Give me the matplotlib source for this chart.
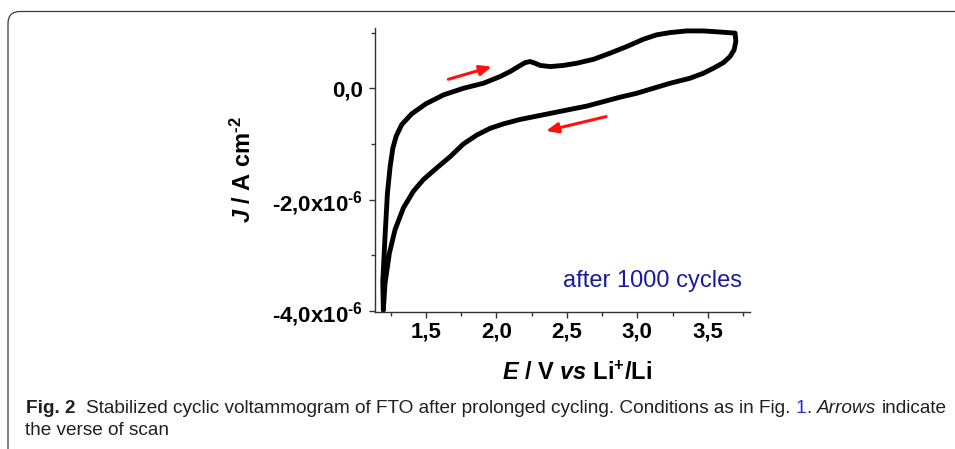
import matplotlib
matplotlib.use("Agg")
import matplotlib.pyplot as plt
from matplotlib.patches import FancyBboxPatch
from matplotlib.transforms import IdentityTransform
from matplotlib.ticker import FixedLocator, FixedFormatter

plt.rcParams["font.family"] = ["Liberation Sans", "DejaVu Sans"]
plt.rcParams["mathtext.fontset"] = "custom"
plt.rcParams["mathtext.rm"] = "Liberation Sans:bold"
plt.rcParams["mathtext.it"] = "Liberation Sans:italic:bold"
plt.rcParams["mathtext.bf"] = "Liberation Sans:bold"
plt.rcParams["mathtext.default"] = "rm"

# anodic scan (E in V vs Li+/Li, J in 1e-6 A cm-2)
fwd_E = [1.199, 1.195, 1.211, 1.228, 1.247, 1.266, 1.290, 1.330, 1.400, 1.500,
         1.625, 1.767, 1.909, 2.027, 2.098, 2.157, 2.204, 2.240, 2.275, 2.311,
         2.382, 2.476, 2.571, 2.689, 2.807, 2.926, 3.043, 3.138, 3.233, 3.351,
         3.469, 3.587, 3.694]
fwd_J = [-3.98, -3.47, -2.66, -1.88, -1.41, -1.08, -0.86, -0.65, -0.46, -0.28,
         -0.12, 0.00, 0.09, 0.21, 0.30, 0.39, 0.46, 0.48, 0.45, 0.41,
         0.39, 0.41, 0.45, 0.52, 0.63, 0.75, 0.88, 0.96, 1.00, 1.03,
         1.03, 1.01, 0.99]
# cathodic scan
rev_E = [3.699, 3.687, 3.658, 3.611, 3.540, 3.469, 3.374, 3.233, 3.114, 2.996,
         2.878, 2.760, 2.642, 2.523, 2.405, 2.287, 2.169, 2.050, 1.956, 1.862,
         1.767, 1.672, 1.578, 1.483, 1.412, 1.341, 1.282, 1.242, 1.211, 1.199]
rev_J = [0.84, 0.69, 0.57, 0.46, 0.36, 0.27, 0.18, 0.09, 0.00, -0.09,
         -0.16, -0.24, -0.32, -0.38, -0.44, -0.50, -0.56, -0.64, -0.72, -0.84,
         -1.00, -1.23, -1.43, -1.64, -1.85, -2.15, -2.54, -2.96, -3.50, -3.98]

x_ticks = [1.5, 2.0, 2.5, 3.0, 3.5]
x_tick_labels = ["1,5", "2,0", "2,5", "3,0", "3,5"]
y_ticks = [-4.0e-6, -2.0e-6, 0.0]
y_tick_labels = [r"-4,0x10$^{\text{-6}}$", r"-2,0x10$^{\text{-6}}$", "0,0"]

fig = plt.figure(figsize=(9.55, 4.49), dpi=100)
ax = fig.add_axes([0.3927, 0.3051, 0.3927, 0.6325])

E = fwd_E + rev_E
J = [j * 1e-6 for j in fwd_J + rev_J]
ax.plot(E, J, color="black", lw=3.5, solid_joinstyle="round", solid_capstyle="round")

ax.set_xlim(1.14, 3.80)
ax.set_ylim(-4.018e-6, 1.082e-6)
for s in ["top", "right"]:
    ax.spines[s].set_visible(False)
for s in ["left", "bottom"]:
    ax.spines[s].set_color("#333333")
    ax.spines[s].set_linewidth(1.0)

ax.xaxis.set_major_locator(FixedLocator(x_ticks))
ax.xaxis.set_major_formatter(FixedFormatter(x_tick_labels))
ax.xaxis.set_minor_locator(FixedLocator([1.25, 1.75, 2.25, 2.75, 3.25, 3.75]))
ax.yaxis.set_major_locator(FixedLocator(y_ticks))
ax.yaxis.set_major_formatter(FixedFormatter(y_tick_labels))
ax.yaxis.set_minor_locator(FixedLocator([-3e-6, -1e-6, 1e-6]))
ax.tick_params(which="major", length=4.5, width=1, color="#333333", direction="out")
ax.tick_params(which="minor", length=3, width=1, color="#333333", direction="out")
ax.tick_params(axis="x", which="major", pad=2)
ax.tick_params(axis="y", which="major", pad=4)
for lab in ax.get_xticklabels() + ax.get_yticklabels():
    lab.set_fontsize(16)
    lab.set_fontweight("bold")

# scan direction arrows
arrow = dict(arrowstyle="-|>,head_length=0.7,head_width=0.3", color="#ff1010",
             lw=2.2, shrinkA=0, shrinkB=0)
ax.annotate("", xy=(1.968, 0.387e-6), xytext=(1.660, 0.161e-6), arrowprops=arrow)
ax.annotate("", xy=(2.353, -0.766e-6), xytext=(2.779, -0.509e-6), arrowprops=arrow)

ax.text(3.743, -3.47e-6, "after 1000 cycles", color="#1a1a9e", fontsize=17,
        ha="right", va="center")

fig.text(0.2545, 0.6214, r"$\mathit{J}$ / A cm$^{\text{-2}}$", rotation=90, fontsize=17,
         fontweight="bold", ha="center", va="center")
fig.text(0.6047, 0.1693, r"$\mathit{E}$ / V $\mathit{vs}$ Li$^{+}$/Li", fontsize=17,
         fontweight="bold", ha="center", va="center")

# rounded frame of the figure panel
frame = FancyBboxPatch((8, -30), 1000, 467.5, boxstyle="round,pad=0,rounding_size=12",
                       transform=IdentityTransform(), fill=False, edgecolor="#3a3a3a", lw=0.9)
fig.patches.append(frame)

# caption
cap_size = 13.7
cap_family = ["Liberation Sans"]
cap_color = "#231f20"
r = fig.canvas.get_renderer()


def width_of(s, **kw):
    t = fig.text(0, 0, s, fontsize=cap_size, family=cap_family, **kw)
    w = t.get_window_extent(r).width
    t.remove()
    return w


space = width_of("a a") - width_of("aa")


def put_line(x_px, y_px, parts):
    x = x_px
    for s, kw, gap in parts:
        t = fig.text(x / 955, 1 - y_px / 449, s, fontsize=cap_size, family=cap_family,
                     va="baseline", ha="left", **kw)
        x += t.get_window_extent(r).width + gap * space


line1 = [
    ("Fig. 2", dict(fontweight="bold", color=cap_color), 2),
    ("Stabilized cyclic voltammogram of FTO after prolonged cycling. Conditions as in Fig.",
     dict(color=cap_color), 1),
    ("1", dict(color="#2b2bd9"), 0),
    (".", dict(color=cap_color), 1),
    ("Arrows", dict(style="italic", color=cap_color), 1),
    ("indicate", dict(color=cap_color), 0),
]
put_line(26, 413.3, line1)
put_line(25, 435, [("the verse of scan", dict(color=cap_color), 0)])

fig.savefig("out.png", dpi=100)
